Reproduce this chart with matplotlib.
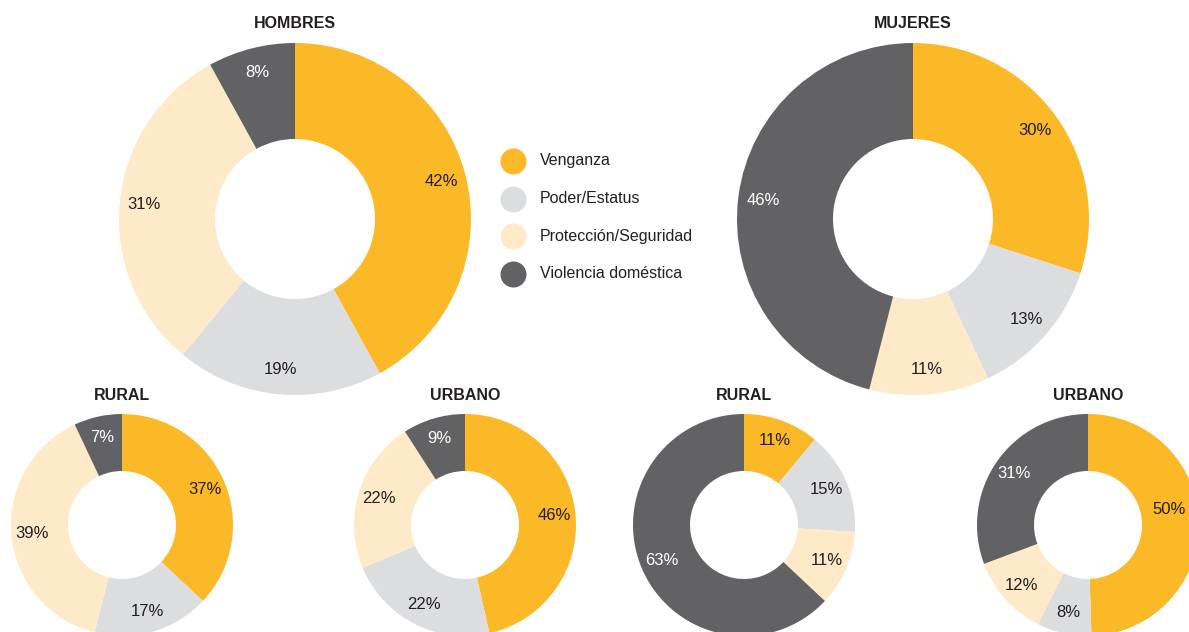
import matplotlib.pyplot as plt
import numpy as np

plt.rcParams['font.family'] = ['Liberation Sans', 'DejaVu Sans']

# categorias y colores
categorias = ['Venganza', 'Poder/Estatus', 'Protección/Seguridad', 'Violencia doméstica']
colores = ['#FBB827', '#DCDDDF', '#FEEAC8', '#626264']

# porcentajes (orden de categorias)
hombres = [42, 19, 31, 8]
mujeres = [30, 13, 11, 46]
hombres_rural = [37, 17, 39, 7]
hombres_urbano = [46, 22, 22, 9]
mujeres_rural = [11, 15, 11, 63]
mujeres_urbano = [50, 8, 12, 31]

W, H = 1189, 632
fig = plt.figure(figsize=(W / 100, H / 100), dpi=100)
ax = fig.add_axes([0, 0, 1, 1])

texto = '#231F20'


def dona(vals, titulo, cx, cy, r, r_in, lab_f, ty):
    # cy, ty en pixeles desde arriba
    wedges, _ = ax.pie(vals, colors=colores, startangle=90, counterclock=False,
                       center=(cx, H - cy), radius=r,
                       wedgeprops=dict(width=r - r_in, linewidth=0))
    for w, v, c in zip(wedges, vals, colores):
        ang = np.deg2rad((w.theta1 + w.theta2) / 2)
        x = cx + lab_f * r * np.cos(ang)
        y = H - cy + lab_f * r * np.sin(ang)
        if x + 19 > W:
            # que no se salga del borde
            x = W - 20
            y += 14
        col = 'white' if c == '#626264' else texto
        ax.text(x, y, f'{v}%', ha='center', va='center', fontsize=12, color=col)
    ax.text(cx, H - ty, titulo, ha='center', va='center', fontsize=11.5,
            fontweight='bold', color=texto)


dona(hombres, 'HOMBRES', 295, 219, 176, 80, 0.86, 24)
dona(mujeres, 'MUJERES', 913, 219, 176, 80, 0.86, 24)
dona(hombres_rural, 'RURAL', 122, 525, 111, 54, 0.81, 396)
dona(hombres_urbano, 'URBANO', 465, 525, 111, 54, 0.81, 396)
dona(mujeres_rural, 'RURAL', 744, 525, 111, 54, 0.81, 396)
dona(mujeres_urbano, 'URBANO', 1088, 525, 111, 54, 0.81, 396)

# leyenda
for i, (cat, c) in enumerate(zip(categorias, colores)):
    y = H - (161 + i * 37.5)
    ax.scatter([513], [y], s=26 ** 2 * 0.72 ** 2, color=c, linewidths=0, zorder=3)
    ax.text(540, y, cat, ha='left', va='center', fontsize=11.5, color=texto)

ax.set_xlim(0, W)
ax.set_ylim(0, H)
ax.set_aspect('equal')
ax.axis('off')

plt.savefig('out.png', dpi=100)
plt.close()
